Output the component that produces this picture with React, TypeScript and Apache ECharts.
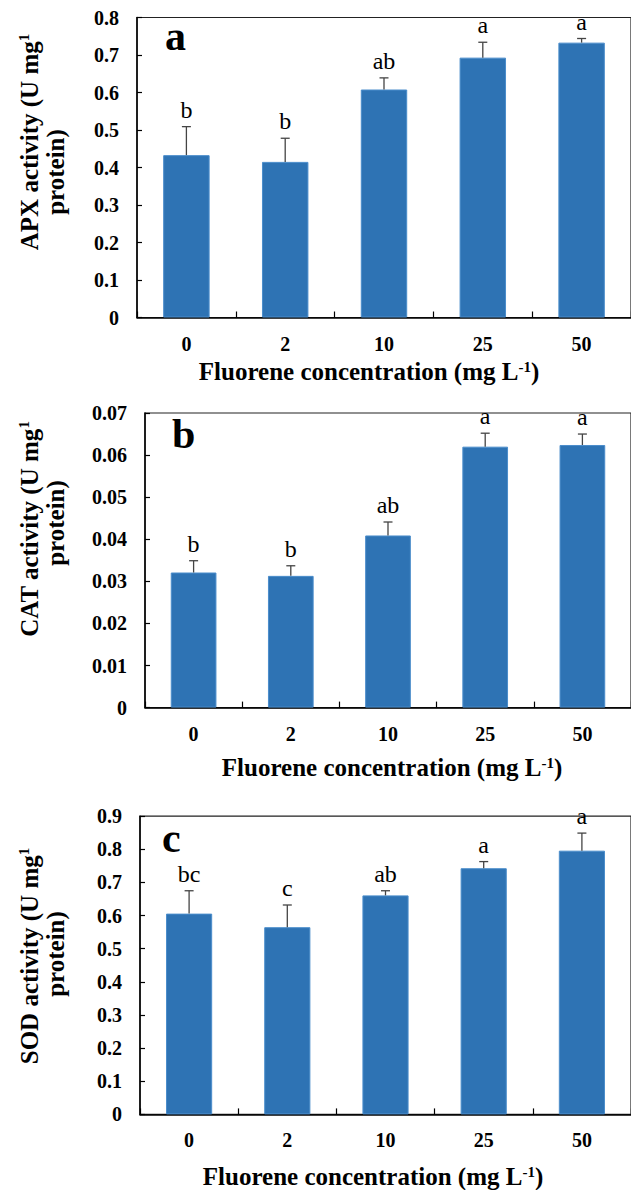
import React, { useEffect, useRef } from "react";
import * as echarts from "echarts";

const categories = ["0", "2", "10", "25", "50"];

const apxMeans = [0.433, 0.415, 0.608, 0.693, 0.733];
const apxErr = [0.076, 0.063, 0.031, 0.041, 0.011];
const apxLetters = ["b", "b", "ab", "a", "a"];

const catMeans = [0.0321, 0.0313, 0.0409, 0.062, 0.0624];
const catErr = [0.0028, 0.0024, 0.0032, 0.0032, 0.0026];
const catLetters = ["b", "b", "ab", "a", "a"];

const sodMeans = [0.606, 0.565, 0.661, 0.743, 0.796];
const sodErr = [0.069, 0.067, 0.014, 0.02, 0.053];
const sodLetters = ["bc", "c", "ab", "a", "a"];

const yMaxes = [0.8, 0.07, 0.9];
const yIntervals = [0.1, 0.01, 0.1];
const yDecimals = [1, 2, 1];
const panelLetters = ["a", "b", "c"];
const yTitles = ["APX activity (U mg", "CAT activity (U mg", "SOD activity (U mg"];
const xTitle = "Fluorene concentration (mg L";

const FONT = "'Liberation Serif', 'Times New Roman', serif";

export default function App() {
  const ref = useRef<HTMLDivElement>(null);

  useEffect(() => {
    if (!ref.current) return;
    const chart = echarts.init(ref.current, undefined, { renderer: "svg" });

    const grids = [
      { left: 137, top: 17.5, width: 498, height: 300 },
      { left: 145, top: 413, width: 491.5, height: 294.6 },
      { left: 140, top: 816.2, width: 496.5, height: 298.2 },
    ];
    const meansAll = [apxMeans, catMeans, sodMeans];
    const errAll = [apxErr, catErr, sodErr];
    const lettersAll = [apxLetters, catLetters, sodLetters];

    const labelStyle = {
      color: "#000",
      fontFamily: FONT,
      fontWeight: "bold" as const,
      fontSize: 20,
    };

    const series: any[] = [];
    meansAll.forEach((means, p) => {
      series.push({
        type: "bar",
        xAxisIndex: p,
        yAxisIndex: p,
        data: means,
        barWidth: "47%",
        itemStyle: { color: "#2e73b4", borderColor: "#4b8dcb", borderWidth: 1 },
        z: 2,
      });
      const letters = lettersAll[p];
      series.push({
        type: "custom",
        xAxisIndex: p,
        yAxisIndex: p,
        clip: false,
        z: 3,
        encode: { x: 0, y: 1 },
        data: means.map((m, i) => [i, m, errAll[p][i]]),
        renderItem: (params: any, api: any) => {
          const x = api.value(0);
          const m = api.value(1);
          const e = api.value(2);
          const base = api.coord([x, m]);
          const top = api.coord([x, m + e]);
          return {
            type: "group",
            children: [
              {
                type: "line",
                shape: { x1: base[0], y1: base[1], x2: top[0], y2: top[1] },
                style: { stroke: "#444", lineWidth: 1.3 },
              },
              {
                type: "line",
                shape: { x1: top[0] - 4.5, y1: top[1], x2: top[0] + 4.5, y2: top[1] },
                style: { stroke: "#444", lineWidth: 1.3 },
              },
              {
                type: "text",
                x: top[0],
                y: top[1] - 17,
                style: {
                  text: letters[params.dataIndex],
                  align: "center",
                  verticalAlign: "middle",
                  fontSize: 24,
                  fontFamily: FONT,
                  fill: "#000",
                },
              },
            ],
          };
        },
      });
    });

    const xTitlePos = [
      [369, 371],
      [392, 767],
      [373, 1176],
    ];
    const yTitleCenters = [
      [142, 172],
      [529, 523],
      [956, 954],
    ];
    const letterPos = [
      [165, 36],
      [172, 434],
      [162, 838],
    ];

    const graphic: any[] = [];
    for (let p = 0; p < 3; p++) {
      graphic.push({
        type: "text",
        x: letterPos[p][0],
        y: letterPos[p][1],
        style: {
          text: panelLetters[p],
          fontSize: 42,
          fontWeight: "bold",
          fontFamily: FONT,
          fill: "#000",
          align: "left",
          verticalAlign: "middle",
        },
      });
      graphic.push({
        type: "text",
        x: xTitlePos[p][0],
        y: xTitlePos[p][1],
        style: {
          text: "{b|" + xTitle + "}{s|-1}{b|)}",
          align: "center",
          verticalAlign: "middle",
          rich: {
            b: { fontSize: 25, fontWeight: "bold", fontFamily: FONT, fill: "#000", lineHeight: 24 },
            s: { fontSize: 15, fontWeight: "bold", fontFamily: FONT, fill: "#000", verticalAlign: "top", lineHeight: 14 },
          },
        },
      });
      graphic.push({
        type: "text",
        x: 29,
        y: yTitleCenters[p][0],
        rotation: Math.PI / 2,
        style: {
          text: "{b|" + yTitles[p] + "}{s|1}",
          align: "center",
          verticalAlign: "middle",
          rich: {
            b: { fontSize: 25, fontWeight: "bold", fontFamily: FONT, fill: "#000", lineHeight: 26 },
            s: { fontSize: 15, fontWeight: "bold", fontFamily: FONT, fill: "#000", verticalAlign: "top", lineHeight: 14 },
          },
        },
      });
      graphic.push({
        type: "text",
        x: 55,
        y: yTitleCenters[p][1],
        rotation: Math.PI / 2,
        style: {
          text: "protein)",
          align: "center",
          verticalAlign: "middle",
          fontSize: 25,
          fontWeight: "bold",
          fontFamily: FONT,
          fill: "#000",
        },
      });
    }

    chart.setOption({
      animation: false,
      backgroundColor: "#fff",
      grid: grids.map((g) => ({
        ...g,
        show: true,
        borderColor: "#222",
        borderWidth: 1.2,
        backgroundColor: "transparent",
        containLabel: false,
      })),
      xAxis: grids.map((_, p) => ({
        type: "category",
        gridIndex: p,
        data: categories,
        axisLine: { show: true, lineStyle: { color: "#000", width: 1.5 } },
        axisTick: { show: true, inside: true, length: 6, lineStyle: { color: "#000", width: 1.2 } },
        axisLabel: { ...labelStyle, margin: 16 },
        splitLine: { show: false },
      })),
      yAxis: grids.map((_, p) => ({
        type: "value",
        gridIndex: p,
        min: 0,
        max: yMaxes[p],
        interval: yIntervals[p],
        axisLine: { show: true, lineStyle: { color: "#000", width: 1.5 } },
        axisTick: { show: true, inside: true, length: 5, lineStyle: { color: "#000", width: 1.2 } },
        axisLabel: {
          ...labelStyle,
          margin: 18,
          formatter: (v: number) => (v === 0 ? "0" : v.toFixed(yDecimals[p])),
        },
        splitLine: { show: false },
      })),
      series,
      graphic,
    });

    return () => chart.dispose();
  }, []);

  return (
    <div
      ref={ref}
      style={{ position: "absolute", left: 0, top: 0, width: 631, height: 1190, background: "#fff" }}
    />
  );
}
